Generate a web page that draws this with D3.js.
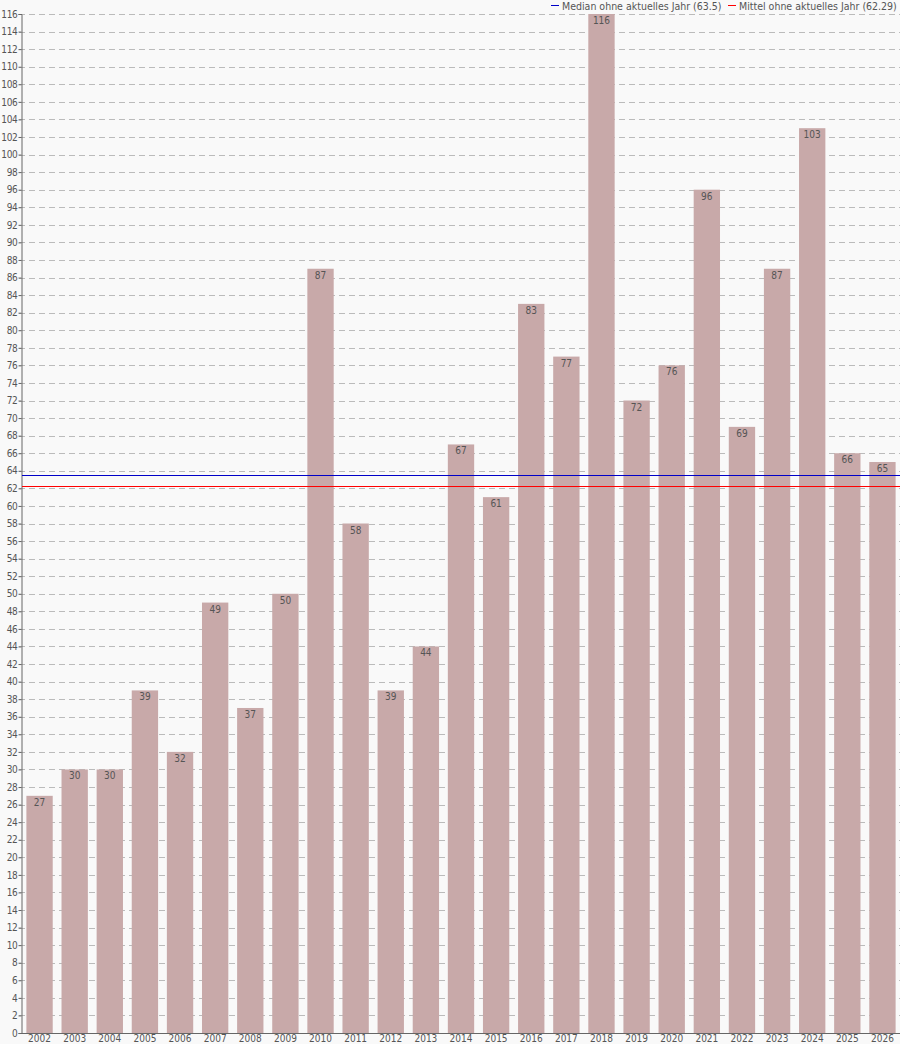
<!DOCTYPE html>
<html><head><meta charset="utf-8">
<script src="https://cdn.jsdelivr.net/npm/d3@7"></script>
<style>
html,body{margin:0;padding:0;background:#f9f9f9;}
svg{display:block;font-family:"DejaVu Sans Condensed","DejaVu Sans",sans-serif;}
</style></head><body>
<svg id="c" width="900" height="1044"></svg>
<script>
const years = ["2002","2003","2004","2005","2006","2007","2008","2009","2010","2011","2012","2013","2014","2015","2016","2017","2018","2019","2020","2021","2022","2023","2024","2025","2026"];
const values = [27,30,30,39,32,49,37,50,87,58,39,44,67,61,83,77,116,72,76,96,69,87,103,66,65];
const medianValue = 63.5;
const meanValue = 62.29;
const legendLabels = ["Median ohne aktuelles Jahr (63.5)","Mittel ohne aktuelles Jahr (62.29)"];
const yTicks = d3.range(0, 117, 2);

const svg = d3.select("#c");
const W = 900, H = 1044;
const m = {left: 22, right: 0, top: 14, bottom: 11};
const x = d3.scaleBand().domain(years).range([m.left, W - m.right]).paddingInner(0.25).paddingOuter(0.125);
const y = d3.scaleLinear().domain([0, 116]).range([H - m.bottom, m.top]);
const py = v => Math.round(y(v)) + 0.5;

svg.append("rect").attr("width", W).attr("height", H).attr("fill", "#f9f9f9");

// grid
svg.append("g").selectAll("line").data(yTicks.filter(d => d > 0)).join("line")
  .attr("x1", m.left - 3).attr("x2", W)
  .attr("y1", d => py(d)).attr("y2", d => py(d))
  .attr("stroke", "#bbb").attr("stroke-width", 1).attr("stroke-dasharray", "6,4");

// bars
svg.append("g").selectAll("rect").data(years).join("rect")
  .attr("x", d => x(d)).attr("width", x.bandwidth())
  .attr("y", (d, i) => y(values[i])).attr("height", (d, i) => y(0) - y(values[i]))
  .attr("fill", "#c8a9a9");

// value labels
svg.append("g").selectAll("text").data(years).join("text")
  .attr("x", d => x(d) + x.bandwidth() / 2)
  .attr("y", (d, i) => y(values[i]) + 10)
  .attr("text-anchor", "middle").attr("font-size", 10).attr("fill", "#555")
  .text((d, i) => values[i]);

// y axis
const ya = svg.append("g").attr("transform", `translate(${m.left - 0.5},0)`)
  .call(d3.axisLeft(y).tickValues(yTicks).tickSize(3).tickPadding(1));
ya.select(".domain").attr("stroke", "#666");
ya.selectAll(".tick line").attr("stroke", "#666");
ya.selectAll(".tick text").attr("font-size", 10).attr("fill", "#555")
  .attr("letter-spacing", "-0.3").attr("font-family", "DejaVu Sans Condensed");

// x axis
const xa = svg.append("g").attr("transform", `translate(0,${y(0) + 0.5})`)
  .call(d3.axisBottom(x).tickSize(0).tickPadding(1));
xa.select(".domain").attr("stroke", "#666").attr("d", `M${m.left},0H${W}`);
xa.selectAll(".tick text").attr("font-size", 10).attr("fill", "#555").attr("font-family", "DejaVu Sans Condensed");

// reference lines
svg.append("line").attr("x1", m.left).attr("x2", W)
  .attr("y1", py(medianValue)).attr("y2", py(medianValue))
  .attr("stroke", "#0000c8").attr("stroke-width", 1);
svg.append("line").attr("x1", m.left).attr("x2", W)
  .attr("y1", py(meanValue)).attr("y2", py(meanValue))
  .attr("stroke", "#ff0000").attr("stroke-width", 1);

// legend
const leg = svg.append("g");
const legX = [551, 728];
const legC = ["#0000c8", "#ff0000"];
legendLabels.forEach((t, i) => {
  leg.append("line").attr("x1", legX[i]).attr("x2", legX[i] + 8).attr("y1", 5.5).attr("y2", 5.5)
    .attr("stroke", legC[i]).attr("stroke-width", 1);
  leg.append("text").attr("x", legX[i] + 11).attr("y", 9.5).attr("font-size", 10.5).attr("fill", "#555").text(t);
});
</script>
</body></html>
